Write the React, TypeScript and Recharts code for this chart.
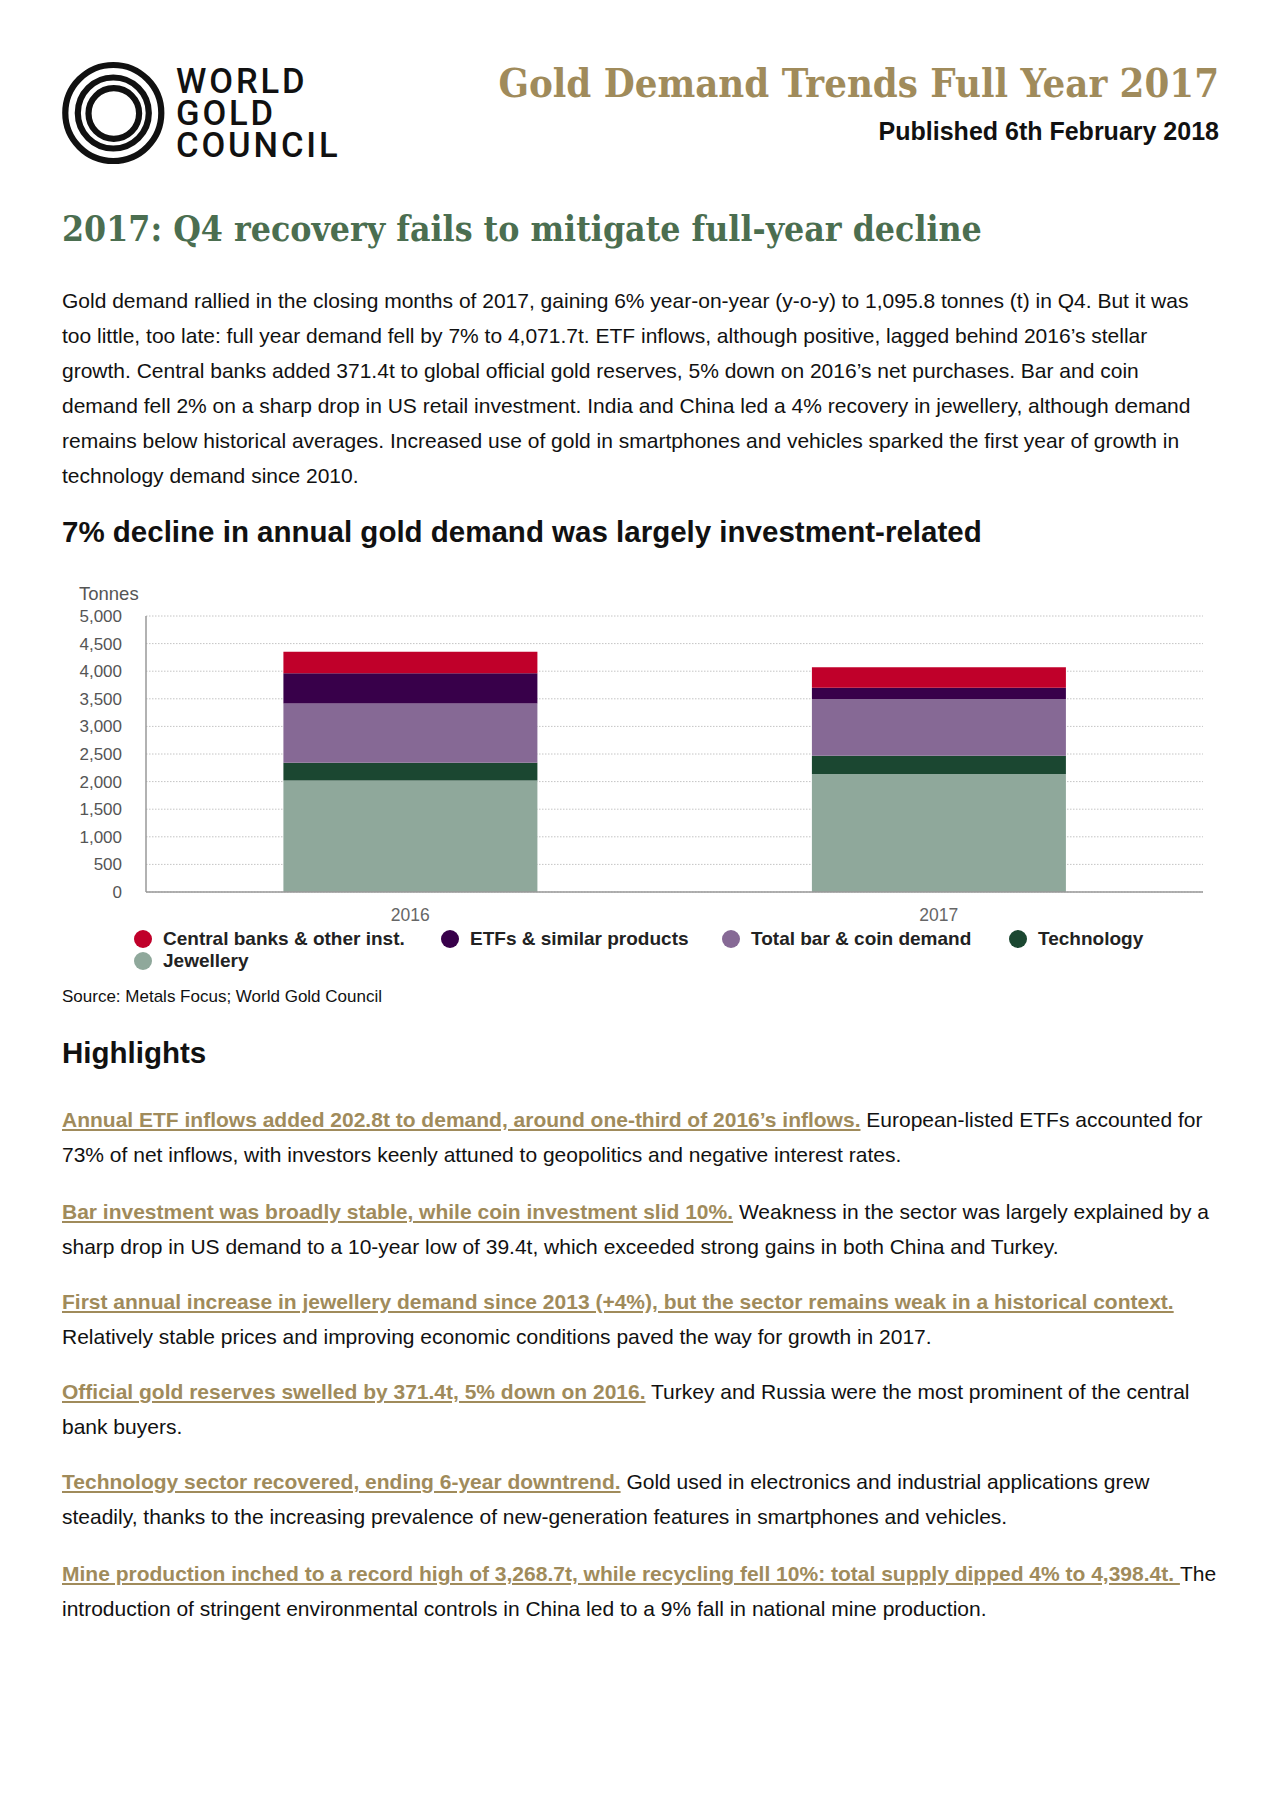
import React from 'react';
import { BarChart, Bar, XAxis, YAxis, CartesianGrid } from 'recharts';

const years = ['2016', '2017'];
const jewellery = [2018.8, 2135.5];
const technology = [323.4, 332.8];
const barCoin = [1072.6, 1029.2];
const etfs = [546.8, 202.8];
const centralBanks = [389.8, 371.4];
const yTicks = [0, 500, 1000, 1500, 2000, 2500, 3000, 3500, 4000, 4500, 5000];

const seriesKeys = ['jewellery', 'technology', 'barCoin', 'etfs', 'centralBanks'];
const seriesNames = ['Jewellery', 'Technology', 'Total bar & coin demand', 'ETFs & similar products', 'Central banks & other inst.'];
const seriesColors = ['#8fa89b', '#1b4731', '#866995', '#38004a', '#c0002a'];
const legendOrder = [4, 3, 2, 1, 0];

const introLines = [
  'Gold demand rallied in the closing months of 2017, gaining 6% year-on-year (y-o-y) to 1,095.8 tonnes (t) in Q4. But it was',
  'too little, too late: full year demand fell by 7% to 4,071.7t. ETF inflows, although positive, lagged behind 2016\u2019s stellar',
  'growth. Central banks added 371.4t to global official gold reserves, 5% down on 2016\u2019s net purchases. Bar and coin',
  'demand fell 2% on a sharp drop in US retail investment. India and China led a 4% recovery in jewellery, although demand',
  'remains below historical averages. Increased use of gold in smartphones and vehicles sparked the first year of growth in',
  'technology demand since 2010.',
];

const highlights = [
  { link: 'Annual ETF inflows added 202.8t to demand, around one-third of 2016\u2019s inflows.', rest1: ' European-listed ETFs accounted for', line2: '73% of net inflows, with investors keenly attuned to geopolitics and negative interest rates.' },
  { link: 'Bar investment was broadly stable, while coin investment slid 10%.', rest1: ' Weakness in the sector was largely explained by a', line2: 'sharp drop in US demand to a 10-year low of 39.4t, which exceeded strong gains in both China and Turkey.' },
  { link: 'First annual increase in jewellery demand since 2013 (+4%), but the sector remains weak in a historical context.', rest1: '', line2: 'Relatively stable prices and improving economic conditions paved the way for growth in 2017.' },
  { link: 'Official gold reserves swelled by 371.4t, 5% down on 2016.', rest1: ' Turkey and Russia were the most prominent of the central', line2: 'bank buyers.' },
  { link: 'Technology sector recovered, ending 6-year downtrend.', rest1: ' Gold used in electronics and industrial applications grew', line2: 'steadily, thanks to the increasing prevalence of new-generation features in smartphones and vehicles.' },
  { link: 'Mine production inched to a record high of 3,268.7t, while recycling fell 10%: total supply dipped 4% to 4,398.4t. ', rest1: 'The', line2: 'introduction of stringent environmental controls in China led to a 9% fall in national mine production.' },
];
const highlightY = [1120, 1212, 1302, 1392, 1482, 1574];

const data = years.map((y, i) => ({
  year: y,
  jewellery: jewellery[i],
  technology: technology[i],
  barCoin: barCoin[i],
  etfs: etfs[i],
  centralBanks: centralBanks[i],
}));

const SANS = '"Liberation Sans", Arial, sans-serif';
const SLAB = '"DejaVu Serif Condensed", "DejaVu Serif", serif';
const GOLD = '#a08b5b';

function T(props: { x: number; cy: number; size: number; lh?: number; style?: React.CSSProperties; right?: boolean; children: React.ReactNode }) {
  const lh = props.lh ?? Math.round(props.size * 1.4);
  const pos: React.CSSProperties = props.right ? { right: 1280 - props.x } : { left: props.x };
  return (
    <div style={{ position: 'absolute', top: props.cy - lh / 2, ...pos, fontSize: props.size, lineHeight: lh + 'px', whiteSpace: 'nowrap', fontFamily: SANS, color: '#111', ...props.style }}>
      {props.children}
    </div>
  );
}

const logoText: React.CSSProperties = { fontFamily: 'Roboto, sans-serif', fontWeight: 500, letterSpacing: 2.9, color: '#111' };

export default function App() {
  return (
    <div style={{ position: 'absolute', left: 0, top: 0, width: 1280, height: 1814, background: '#fff', overflow: 'hidden' }}>
      <svg style={{ position: 'absolute', left: 55, top: 55 }} width={118} height={118}>
        <circle cx={58.3} cy={58} r={48} fill="none" stroke="#111" strokeWidth={6.2} />
        <circle cx={58.3} cy={58} r={35.5} fill="none" stroke="#111" strokeWidth={6.2} />
        <circle cx={58.8} cy={58.5} r={25.3} fill="none" stroke="#111" strokeWidth={6.2} />
      </svg>
      <div style={{ position: 'absolute', left: 176, top: 65, fontSize: 34.5, lineHeight: '32px', whiteSpace: 'nowrap', ...logoText }}>
        WORLD<br />GOLD<br />COUNCIL
      </div>

      <T x={1219} right cy={83} size={39.7} lh={48} style={{ fontFamily: SLAB, fontWeight: 700, color: GOLD }}>Gold Demand Trends Full Year 2017</T>
      <T x={1219} right cy={131} size={25} lh={30} style={{ fontWeight: 700 }}>Published 6th February 2018</T>

      <T x={62} cy={229} size={35.3} lh={44} style={{ fontFamily: SLAB, fontWeight: 700, color: '#4b6e50' }}>2017: Q4 recovery fails to mitigate full-year decline</T>

      {introLines.map((l, i) => (
        <T key={i} x={62} cy={301 + i * 35} size={21} lh={30}>{l}</T>
      ))}

      <T x={62} cy={532} size={29.5} lh={34} style={{ fontWeight: 700 }}>7% decline in annual gold demand was largely investment-related</T>

      <T x={79} cy={594} size={18.5} lh={22} style={{ color: '#555' }}>Tonnes</T>

      <div style={{ position: 'absolute', left: 0, top: 560 }}>
        <BarChart width={1280} height={372} data={data} margin={{ top: 56, right: 77, bottom: 0, left: 86 }} barCategoryGap="26%">
          <CartesianGrid vertical={false} stroke="#c4c4c4" strokeDasharray="1.5 1.5" />
          <XAxis dataKey="year" height={40} tickLine={false} tickSize={0} tickMargin={17} axisLine={{ stroke: '#999', strokeWidth: 1.5 }} tick={{ fill: '#666', fontSize: 17.5, fontFamily: SANS }} />
          <YAxis width={60} domain={[0, 5000]} ticks={yTicks} interval={0} tickLine={false} tickSize={0} tickMargin={24} axisLine={{ stroke: '#999', strokeWidth: 1.5 }} tick={{ fill: '#555', fontSize: 17, fontFamily: SANS }} tickFormatter={(v: number) => v.toLocaleString('en-US')} />
          {seriesKeys.map((k, i) => (
            <Bar key={k} dataKey={k} name={seriesNames[i]} stackId="a" fill={seriesColors[i]} isAnimationActive={false} />
          ))}
        </BarChart>
      </div>

      {legendOrder.map((si, j) => {
        const row = j < 4 ? 0 : 1;
        const xs = [134, 441, 722, 1009];
        const x = row === 0 ? xs[j] : 134;
        const cy = row === 0 ? 939 : 961;
        return (
          <div key={si} style={{ position: 'absolute', left: x, top: cy - 11, height: 22, display: 'flex', alignItems: 'center', whiteSpace: 'nowrap' }}>
            <span style={{ width: 18, height: 18, borderRadius: 9, background: seriesColors[si], display: 'inline-block' }} />
            <span style={{ marginLeft: 11, fontFamily: SANS, fontWeight: 700, fontSize: 19, lineHeight: '22px', color: '#222' }}>{seriesNames[si]}</span>
          </div>
        );
      })}

      <T x={62} cy={996.5} size={17} lh={20}>Source: Metals Focus; World Gold Council</T>

      <T x={62} cy={1053} size={29.5} lh={34} style={{ fontWeight: 700 }}>Highlights</T>

      {highlights.map((h, i) => (
        <React.Fragment key={i}>
          <T x={62} cy={highlightY[i]} size={21} lh={30}>
            <span style={{ color: GOLD, fontWeight: 700, textDecoration: 'underline' }}>{h.link}</span>
            {h.rest1}
          </T>
          <T x={62} cy={highlightY[i] + 35} size={21} lh={30}>{h.line2}</T>
        </React.Fragment>
      ))}
    </div>
  );
}
